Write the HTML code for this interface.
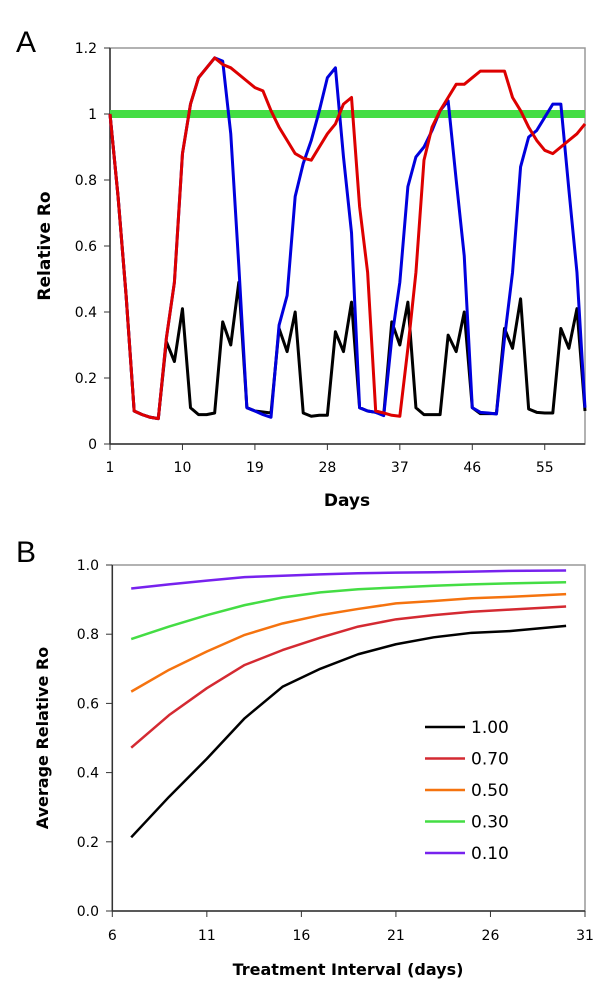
<!DOCTYPE html>
<html><head><meta charset="utf-8"><style>
body{margin:0;background:#fff;}
svg{display:block;font-family:"DejaVu Sans","Liberation Sans",sans-serif;}
</style></head><body>
<svg id="c" width="600" height="995" viewBox="0 0 600 995">
<text x="16" y="52" font-size="30" font-family="Liberation Sans, sans-serif">A</text>
<text x="16" y="562" font-size="30" font-family="Liberation Sans, sans-serif">B</text>
<g id="ga"></g>
<g id="gb"></g>
</svg>
<script>
const daysA = Array.from({length:60},(_,i)=>i+1);
const redA = [1.0,0.75,0.45,0.10,0.089,0.081,0.077,0.32,0.49,0.88,1.03,1.11,1.14,1.17,1.15,1.14,1.12,1.10,1.08,1.07,1.01,0.96,0.92,0.88,0.866,0.86,0.90,0.94,0.97,1.03,1.05,0.72,0.52,0.10,0.094,0.087,0.084,0.29,0.52,0.86,0.96,1.01,1.05,1.09,1.09,1.11,1.13,1.13,1.13,1.13,1.05,1.01,0.96,0.92,0.89,0.88,0.90,0.92,0.94,0.97];
const blueA = [1.0,0.75,0.45,0.10,0.089,0.081,0.077,0.32,0.49,0.88,1.03,1.11,1.14,1.17,1.16,0.94,0.54,0.11,0.10,0.089,0.081,0.36,0.45,0.75,0.85,0.92,1.01,1.11,1.14,0.87,0.64,0.11,0.10,0.096,0.086,0.32,0.49,0.78,0.87,0.90,0.95,1.01,1.04,0.80,0.57,0.11,0.096,0.094,0.091,0.32,0.52,0.84,0.93,0.95,0.99,1.03,1.03,0.77,0.52,0.11];
const blackA = [1.0,0.75,0.45,0.10,0.089,0.081,0.077,0.31,0.25,0.41,0.11,0.089,0.089,0.094,0.37,0.30,0.49,0.11,0.10,0.097,0.094,0.35,0.28,0.40,0.094,0.084,0.087,0.087,0.34,0.28,0.43,0.11,0.10,0.096,0.089,0.37,0.30,0.43,0.11,0.089,0.089,0.089,0.33,0.28,0.40,0.11,0.092,0.092,0.092,0.35,0.29,0.44,0.106,0.096,0.094,0.094,0.35,0.29,0.41,0.10];
const greenA = daysA.map(()=>1.0);
const xTicksA = [1,10,19,28,37,46,55];
const yTicksA = [0,0.2,0.4,0.6,0.8,1,1.2];

const xB = [7,9,11,13,15,17,19,21,23,25,27,30];
const s100 = [0.213,0.33,0.44,0.557,0.648,0.70,0.742,0.771,0.791,0.804,0.809,0.824];
const s070 = [0.472,0.566,0.644,0.711,0.754,0.79,0.822,0.843,0.855,0.865,0.871,0.88];
const s050 = [0.634,0.697,0.75,0.798,0.831,0.855,0.873,0.889,0.896,0.904,0.908,0.916];
const s030 = [0.786,0.822,0.855,0.884,0.906,0.921,0.93,0.935,0.94,0.944,0.947,0.95];
const s010 = [0.932,0.944,0.955,0.965,0.969,0.973,0.976,0.978,0.979,0.981,0.983,0.984];
const legendLabels = ["1.00","0.70","0.50","0.30","0.10"];
const xTicksB = [6,11,16,21,26,31];
const yTicksB = [0,0.2,0.4,0.6,0.8,1.0];

const NS="http://www.w3.org/2000/svg";
function mk(p,t,a){const e=document.createElementNS(NS,t);for(const k in a)e.setAttribute(k,a[k]);p.appendChild(e);return e;}

// Panel A
const ga=document.getElementById('ga');
const xa=d=>110+(d-1)*(475/59);
const ya=v=>444-v*330;
let r=mk(ga,'rect',{x:110,y:48,width:475,height:396,fill:'none',stroke:'#999','stroke-width':1.5});


mk(ga,'line',{x1:110,y1:48,x2:110,y2:444,stroke:'#333','stroke-width':1.5});
mk(ga,'line',{x1:110,y1:444,x2:585,y2:444,stroke:'#333','stroke-width':1.5});
yTicksA.forEach(v=>{mk(ga,'line',{x1:104,y1:ya(v),x2:110,y2:ya(v),stroke:'#333'});
 const t=mk(ga,'text',{x:97,y:ya(v)+5,'text-anchor':'end','font-size':14});t.textContent=v===0?'0':String(v);
 
 });
xTicksA.forEach(d=>{mk(ga,'line',{x1:xa(d),y1:444,x2:xa(d),y2:450,stroke:'#333'});
 const t=mk(ga,'text',{x:xa(d),y:472,'text-anchor':'middle','font-size':14});t.textContent=d;
 
 });
let t=mk(ga,'text',{x:347,y:506,'text-anchor':'middle','font-size':17,'font-weight':'bold'});t.textContent='Days';


t=mk(ga,'text',{x:50,y:246,'text-anchor':'middle','font-size':17,'font-weight':'bold',transform:'rotate(-90 50 246)'});t.textContent='Relative Ro';


function lineA(vals,col,w,name){const p=mk(ga,'polyline',{points:vals.map((v,i)=>xa(daysA[i])+','+ya(v)).join(' '),fill:'none',stroke:col,'stroke-width':w,'stroke-linejoin':'round'});
 
 }
lineA(greenA,'#44dd44',8,'threshold-line');
lineA(blackA,'#000',3,'series-black');
lineA(blueA,'#0000dd',3,'series-blue');
lineA(redA,'#dd0000',3,'series-red');

// Panel B
const gb=document.getElementById('gb');
const xbF=x=>112.3+(x-6)*(472.7/25);
const ybF=v=>911-v*346;
r=mk(gb,'rect',{x:112.3,y:565,width:472.7,height:346,fill:'none',stroke:'#999','stroke-width':1.5});


mk(gb,'line',{x1:112.3,y1:565,x2:112.3,y2:911,stroke:'#333','stroke-width':1.5});
mk(gb,'line',{x1:112.3,y1:911,x2:585,y2:911,stroke:'#333','stroke-width':1.5});
yTicksB.forEach(v=>{mk(gb,'line',{x1:106,y1:ybF(v),x2:112,y2:ybF(v),stroke:'#333'});
 const t=mk(gb,'text',{x:99,y:ybF(v)+5,'text-anchor':'end','font-size':14});t.textContent=v.toFixed(1);
 
 });
xTicksB.forEach(d=>{mk(gb,'line',{x1:xbF(d),y1:911,x2:xbF(d),y2:917,stroke:'#333'});
 const t=mk(gb,'text',{x:xbF(d),y:940,'text-anchor':'middle','font-size':14});t.textContent=d;
 
 });
t=mk(gb,'text',{x:348,y:975,'text-anchor':'middle','font-size':16,'font-weight':'bold'});t.textContent='Treatment Interval (days)';


t=mk(gb,'text',{x:48,y:738,'text-anchor':'middle','font-size':16,'font-weight':'bold',transform:'rotate(-90 48 738)'});t.textContent='Average Relative Ro';


const seriesB=[s100,s070,s050,s030,s010];
const colsB=['#000','#d42a32','#f5730f','#44dd44','#7722ee'];
seriesB.forEach((s,k)=>{const p=mk(gb,'polyline',{points:s.map((v,i)=>xbF(xB[i])+','+ybF(v)).join(' '),fill:'none',stroke:colsB[k],'stroke-width':2.5,'stroke-linejoin':'round'});
 
 
 const ly=727+k*31.5;
 const g=mk(gb,'g',{});
 
 
 mk(g,'line',{x1:425,y1:ly,x2:465,y2:ly,stroke:colsB[k],'stroke-width':2.5});
 const lt=mk(g,'text',{x:471,y:ly+6,'font-size':17});lt.textContent=legendLabels[k];});
</script>
</body></html>
